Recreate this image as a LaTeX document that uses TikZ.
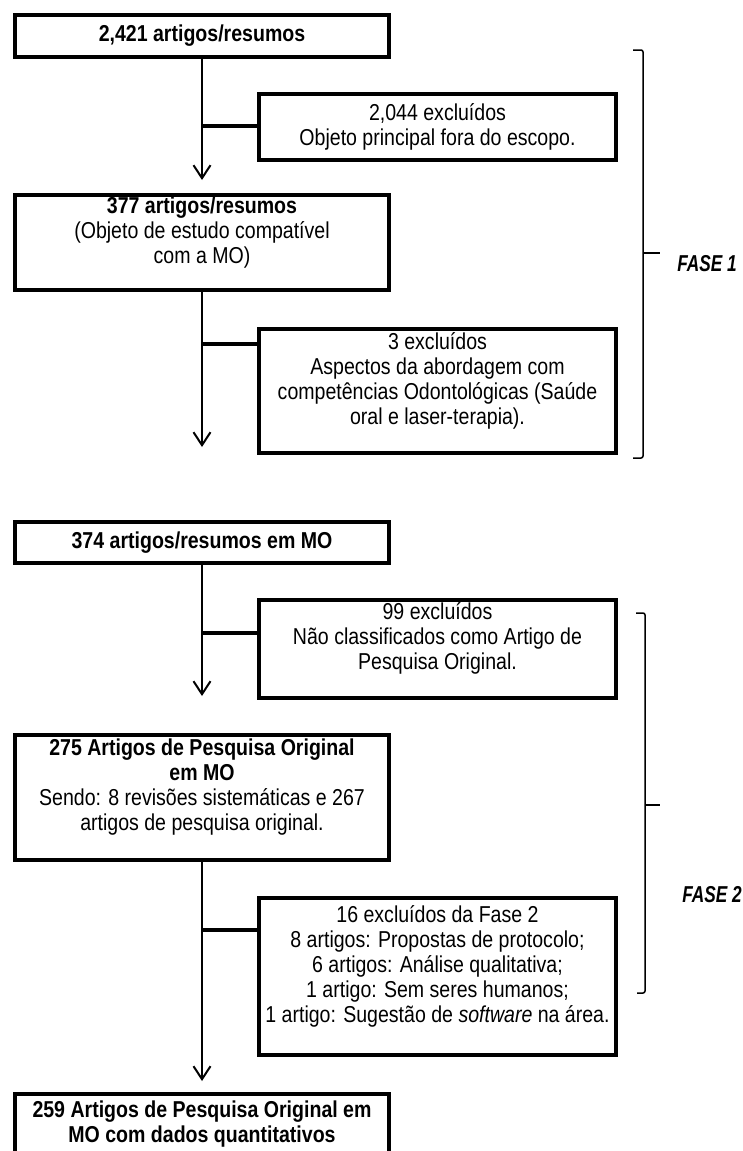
\documentclass[tikz,border=0pt]{standalone}
\usepackage{fontspec}
\setmainfont[FakeStretch=0.85]{Liberation Sans}
\newfontfamily\phasefont[FakeStretch=0.75]{Liberation Sans}
\usetikzlibrary{arrows.meta}
\newcommand{\tail}{\\\mbox{}}

\begin{document}
\begin{tikzpicture}[x=1pt,y=-1pt,
	box/.style={draw, line width=4pt, align=center, inner sep=0pt, font=\fontsize{23}{25}\selectfont},
	wide/.style={box, minimum width=374pt},
	side/.style={box, minimum width=357pt},
	flow/.style={line width=2pt, -{Straight Barb[length=13pt,width=17pt]}},
	branch/.style={line width=3.5pt},
	phase/.style={line width=1.5pt, rounded corners=2pt},
	phaselabel/.style={font=\phasefont\fontsize{23}{25}\selectfont\bfseries\itshape}]
		\useasboundingbox (0,0) rectangle (742,1151);

		% Boxes
		\node[wide, minimum height=42pt] (b1) at (202,36) {\textbf{2,421 artigos/resumos}};
		\node[side, minimum height=66pt] (b2) at (437.5,127) {2,044 excluídos\\Objeto principal fora do escopo.};
		\node[wide, minimum height=95pt] (b3) at (202,242.5) {\textbf{377 artigos/resumos}\\(Objeto de estudo compatível\\com a MO)\tail};
		\node[side, minimum height=124pt] (b4) at (437.5,391) {3 excluídos\\Aspectos da abordagem com\\competências Odontológicas (Saúde\\oral e laser-terapia).\tail};
		\node[wide, minimum height=41pt] (b5) at (202,542.5) {\textbf{374 artigos/resumos em MO}};
		\node[side, minimum height=98pt] (b6) at (437.5,649) {99 excluídos\\Não classificados como Artigo de\\Pesquisa Original.\tail};
		\node[wide, minimum height=125pt] (b7) at (202,797.5) {\textbf{275 Artigos de Pesquisa Original}\\\textbf{em MO}\\Sendo: 8 revisões sistemáticas e 267\\artigos de pesquisa original.\tail};
		\node[side, minimum height=157pt] (b8) at (437.5,976.5) {16 excluídos da Fase 2\\8 artigos: Propostas de protocolo;\\6 artigos: Análise qualitativa;\\1 artigo: Sem seres humanos;\\1 artigo: Sugestão de \textit{software} na área.\tail};
		\node[wide, minimum height=60pt] (b9) at (202,1124) {\textbf{259 Artigos de Pesquisa Original em}\\\textbf{MO com dados quantitativos}};

		% Arrows
		\coordinate (end1) at (202,447);
		\draw[flow, shorten >=13pt] (b1) -- (b3);
		\draw[flow] (b3) -- (end1);
		\draw[flow, shorten >=37pt] (b5) -- (b7);
		\draw[flow, shorten >=11pt] (b7) -- (b9);

		% Exclusions
		\coordinate (j1) at (202,126);
		\coordinate (j2) at (202,344);
		\coordinate (j3) at (202,633);
		\coordinate (j4) at (202,930);
		\draw[branch] (j1) -- (j1 -| b2.west);
		\draw[branch] (j2) -- (j2 -| b4.west);
		\draw[branch] (j3) -- (j3 -| b6.west);
		\draw[branch] (j4) -- (j4 -| b8.west);

		% Phases
		\draw[phase] (633,50) -- (643,50) -- (643,458) -- (633,458);
		\draw[phase] (643,253) -- (660,253);
		\node[phaselabel] (f1) at (707,264) {FASE 1};
		\draw[phase] (636,613) -- (645,613) -- (645,993) -- (637,993);
		\draw[phase] (645,805) -- (660,805);
		\node[phaselabel] (f2) at (712,895) {FASE 2};
	\end{tikzpicture}
\end{document}
